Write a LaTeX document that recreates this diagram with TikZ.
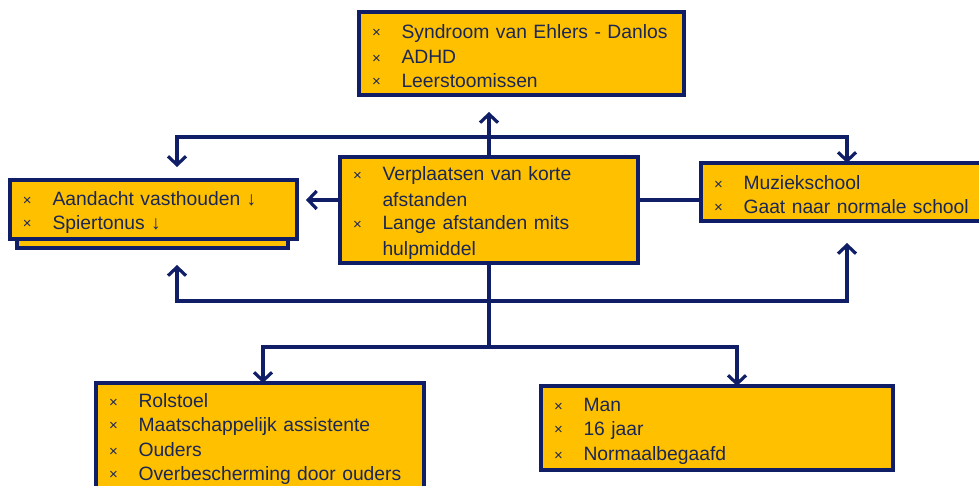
\documentclass[tikz,border=0pt]{standalone}
\usepackage{fontspec}
\setmainfont{Liberation Sans}
\usetikzlibrary{arrows.meta, positioning}

\definecolor{goud}{HTML}{FFC000}
\definecolor{marine}{HTML}{0F1E66}
\definecolor{tekstblauw}{HTML}{1A2755}

% opsommingsteken en inspringing binnen de vakken
\newcommand{\steun}{\rule[-1.5pt]{0pt}{22pt}}
\newcommand{\krs}{\steun\makebox[29.5pt][l]{\fontsize{15}{15}\selectfont\raisebox{0.5pt}{×}}}
\newcommand{\insp}{\steun\hspace*{29.5pt}}

\begin{document}
\begin{tikzpicture}[x=1pt, y=1pt,
  blok/.style={draw=marine, fill=goud, line width=3.2pt, inner xsep=13pt, inner ysep=0pt,
    outer sep=0pt, anchor=north west, align=left, text=tekstblauw,
    font=\fontsize{19.3}{23.5}\selectfont},
  lijn/.style={draw=marine, line width=3.2pt},
  pijl/.style={lijn, -{Straight Barb[length=8.5pt, width=18pt, line width=3.2pt]}}
]
  \useasboundingbox (0,0) rectangle (979,486);

  % tweede blad achter het linkervak
  \filldraw[fill=goud, draw=marine, line width=3.2pt] (17,238) rectangle (288,260);

  % vakken
  \node[blok, text width=299pt, minimum height=83pt] (aandoening) at (359,474)
    {\krs Syndroom van Ehlers - Danlos\\ \krs ADHD\\ \krs Leerstoomissen};
  \node[blok, text width=261pt, minimum height=59pt] (functies) at (10,306)
    {\krs Aandacht vasthouden ↓\\ \krs Spiertonus ↓};
  \node[blok, text width=272pt, minimum height=106pt] (activiteiten) at (340,329)
    {\krs Verplaatsen van korte\\ \insp afstanden\\ \krs Lange afstanden mits\\ \insp hulpmiddel};
  \node[blok, text width=266pt, minimum height=58pt] (participatie) at (701,323)
    {\krs Muziekschool\\ \krs Gaat naar normale school};
  \node[blok, text width=302pt, minimum height=106pt] (externe) at (96,103)
    {\krs Rolstoel\\ \krs Maatschappelijk assistente\\ \krs Ouders\\ \krs Overbescherming door ouders};
  \node[blok, text width=326pt, minimum height=84pt] (persoonlijk) at (541,100)
    {\krs Man\\ \krs 16 jaar\\ \krs Normaalbegaafd};

  % knooppunten van de verbindingen
  \coordinate (pijlboven) at (489,374);
  \coordinate (splitsboven) at (489,349);
  \coordinate (pijllinksboven) at (177,319);
  \coordinate (pijllinks) at (306,286);
  \coordinate (splitsmidden) at (489,185);
  \coordinate (pijllinksonder) at (177,221);
  \coordinate (pijlrechtsonder) at (847,243);
  \coordinate (splitsonder) at (489,139);

  % verbindingen
  \draw[pijl] (activiteiten.north) -- (pijlboven);
  \draw[pijl] (splitsboven) -| (pijllinksboven);
  \draw[pijl] (splitsboven) -| (participatie.north);
  \draw[pijl] (activiteiten.west |- pijllinks) -- (pijllinks);
  \draw[lijn] (participatie.west |- pijllinks) -- (activiteiten.east |- pijllinks);
  \draw[lijn] (activiteiten.south) -- (splitsonder);
  \draw[pijl] (splitsmidden) -| (pijllinksonder);
  \draw[pijl] (splitsmidden) -| (pijlrechtsonder);
  \draw[pijl] (splitsonder) -| ([xshift=3pt]externe.north);
  \draw[pijl] (splitsonder) -| ([xshift=20pt]persoonlijk.north);
\end{tikzpicture}
\end{document}
